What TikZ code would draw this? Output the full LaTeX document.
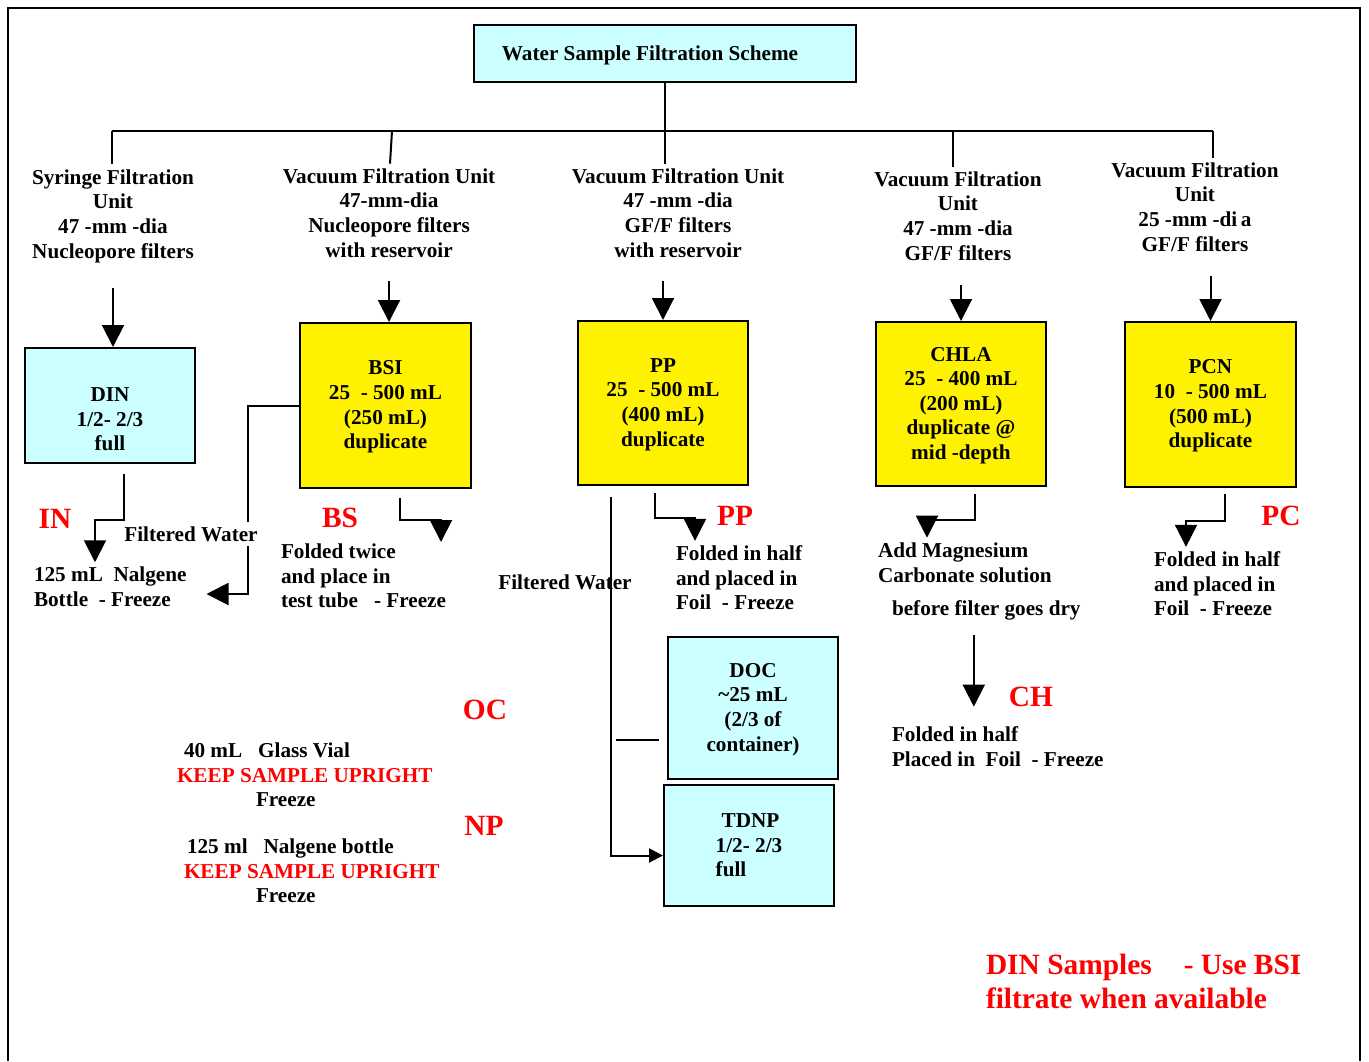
\documentclass[tikz,border=0pt]{standalone}
\usepackage{fontspec}
\setmainfont{Liberation Serif}
\usetikzlibrary{arrows.meta}
\definecolor{watercyan}{RGB}{204,255,255}

\begin{document}
\begin{tikzpicture}[x=0.5pt, y=-0.5pt, line width=1pt,
    >={Triangle[width=11pt,length=11pt]},
    txt/.style={font=\fontsize{10.6}{12.3}\selectfont\bfseries, align=center, inner sep=2pt},
    note/.style={txt, align=left, anchor=west},
    tag/.style={font=\fontsize{14.7}{17}\selectfont\bfseries, text=red, inner sep=2pt},
    box/.style={txt, draw, inner sep=0pt, minimum width=85pt},
    cyanbox/.style={box, fill=watercyan},
    yellowbox/.style={box, fill=yellow}]
    \useasboundingbox (0,0) rectangle (1369,1061);
    \draw (8,1061) -- (8,8) -- (1360,8) -- (1360,1061);

    \node[cyanbox, minimum width=191pt, minimum height=28.5pt, text depth=0pt] (title) at (665,53.5) {Water Sample Filtration Scheme\hspace{15pt}};

    \node[txt] (syr) at (113,216) {Syringe Filtration\\Unit\\47 -mm -dia\\Nucleopore filters};
    \node[txt] (vfa) at (389,213) {Vacuum Filtration Unit\\47-mm-dia\\Nucleopore filters\\with reservoir};
    \node[txt] (vfb) at (678,213) {Vacuum Filtration Unit\\47 -mm -dia\\GF/F filters\\with reservoir};
    \node[txt] (vfc) at (958,216) {Vacuum Filtration\\Unit\\47 -mm -dia\\GF/F filters};
    \node[txt] (vfd) at (1195,207) {Vacuum Filtration\\Unit\\25 -mm -di\,a\\GF/F filters};

    \node[cyanbox, minimum height=57.5pt] (din) at (110,405.5) {\rule{0pt}{21pt}DIN\\1/2- 2/3\\full};
    \node[yellowbox, minimum width=85.5pt, minimum height=82.5pt] (bsi) at (385.5,405.5) {\rule{0pt}{8.5pt}BSI\\25\ \ -\ 500 mL\\(250 mL)\\duplicate};
    \node[yellowbox, minimum height=82pt] (pp) at (663,403) {\rule{0pt}{8.5pt}PP\\25\ \ -\ 500 mL\\(400 mL)\\duplicate};
    \node[yellowbox, minimum height=82pt] (chla) at (961,404) {\rule{0pt}{8.5pt}CHLA\\25\ \ -\ 400 mL\\(200 mL)\\duplicate @\\mid -depth};
    \node[yellowbox, minimum width=85.5pt, minimum height=82.5pt] (pcn) at (1210.5,404.5) {\rule{0pt}{8.5pt}PCN\\10\ \ -\ 500 mL\\(500 mL)\\duplicate};
    \node[cyanbox, minimum height=71pt] (doc) at (753,708) {\rule{0pt}{8.5pt}DOC\\\textasciitilde 25 mL\\(2/3 of\\container)};
    \node[cyanbox, minimum height=60.5pt, align=left] (tdnp) at (749,845.5) {\hspace*{3pt}TDNP\\1/2- 2/3\\full};

    \node[note] (inbtl) at (29,587) {125 mL\ \ Nalgene\\Bottle\ \ - Freeze};
    \node[note] (bsfold) at (276,576) {Folded twice\\and place in\\test tube\ \ \ - Freeze};
    \node[note] (ppfold) at (671,578) {Folded in half\\and placed in\\Foil\ \ - Freeze};
    \node[txt] (filtb) at (565,582) {Filtered Water};
    \node[note] (mgtxt) at (873,562.5) {Add Magnesium\\Carbonate solution};
    \node[note] (drytxt) at (887,610) {before filter goes dry};
    \node[note] (chfold) at (887,746.5) {Folded in half\\Placed in\ \ Foil\ \ - Freeze};
    \node[note] (pcfold) at (1149,584) {Folded in half\\and placed in\\Foil\ \ - Freeze};
    \node[note] (ocnote) at (172,775) {\hspace*{3.5pt}40 mL\ \ \ Glass Vial\\\textcolor{red}{KEEP SAMPLE UPRIGHT}\\\hspace*{39.5pt}Freeze};
    \node[note] (npnote) at (179,871) {\hspace*{1.5pt}125 ml\ \ \ Nalgene bottle\\\textcolor{red}{KEEP SAMPLE UPRIGHT}\\\hspace*{36pt}Freeze};

    \node[tag] (tin) at (55,519) {IN};
    \node[tag] (tbs) at (340,518) {BS};
    \node[tag] (tpp) at (735,516) {PP};
    \node[tag] (tpc) at (1281,516) {PC};
    \node[tag] (tch) at (1031,697) {CH};
    \node[tag] (toc) at (485,710) {OC};
    \node[tag] (tnp) at (484,826) {NP};
    \node[tag, align=left, anchor=west] (dinnote) at (981,981) {DIN Samples\hspace{16pt}- Use BSI\\filtrate when available};

    \coordinate (bus) at (112,131);
    \coordinate (busend) at (1213,131);
    \draw (bus) -- (busend);
    \draw (title.south) -- (title.south |- vfb.north);
    \draw (bus) -- (bus |- syr.north);
    \draw ([xshift=1.5pt]vfa.north |- bus) -- ([xshift=0.5pt]vfa.north);
    \draw ([xshift=-2.5pt]vfc.north |- bus) -- ([xshift=-2.5pt]vfc.north);
    \draw (busend) -- (busend |- vfd.north);

    \draw[->, shorten <=10pt] (syr.south) -- (syr.south |- din.north);
    \draw[->, shorten <=9.5pt] (vfa.south) -- (vfa.south |- bsi.north);
    \draw[->, shorten <=9.5pt] (pp.north |- vfb.south) -- (pp.north);
    \draw[->, shorten <=10pt] (chla.north |- vfc.south) -- (chla.north);
    \draw[->, shorten <=10pt] (pcn.north |- vfd.south) -- (pcn.north);

    \coordinate (inbend) at (95,520);
    \draw[->] ([xshift=7pt,yshift=-5pt]din.south) |- (inbend) -- (inbend |- inbtl.north);
    \coordinate (bsibend) at (248,594);
    \draw[->, shorten >=7.5pt] (bsi.west) -| (bsibend) -- (inbtl.east |- bsibend);
    \node[txt, fill=white] (filta) at (191,534) {Filtered Water};
    \coordinate (bsbend) at (441,520);
    \coordinate (bsend) at (441,542);
    \draw[->] ([xshift=7.25pt,yshift=-4.5pt]bsi.south) |- (bsbend) -- (bsend);
    \coordinate (ppbend) at (695,518);
    \draw[->] ([xshift=-4pt,yshift=-3.5pt]pp.south) |- (ppbend) -- (ppbend |- ppfold.north);
    \draw[->, >={Triangle[width=7pt,length=7pt]}] ([xshift=17pt,yshift=-5.5pt]pp.south west) |- ([yshift=-5pt]tdnp.west);
    \draw ([xshift=-25.5pt,yshift=-16pt]doc.west) -- ([xshift=-4pt,yshift=-16pt]doc.west);
    \coordinate (chbend) at (927,520);
    \draw[->] ([xshift=7pt,yshift=-3.5pt]chla.south) |- (chbend) -- (chbend |- mgtxt.north);
    \draw[->, shorten <=5pt, shorten >=7.5pt] ([xshift=-6.25pt]drytxt.south) -- ([xshift=-6.25pt]drytxt.south |- chfold.north);
    \coordinate (pcbend) at (1186,521);
    \draw[->] ([xshift=7.25pt,yshift=-3pt]pcn.south) |- (pcbend) -- (pcbend |- pcfold.north);
\end{tikzpicture}
\end{document}
